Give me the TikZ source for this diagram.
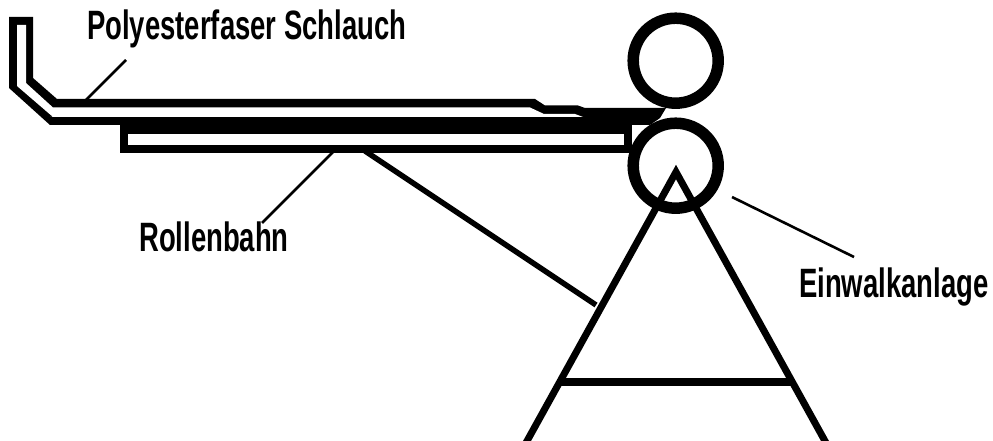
\documentclass[tikz,border=0pt]{standalone}
\usepackage{fontspec}
\newfontfamily\labelfont[FakeStretch=0.67]{Liberation Sans Bold}
\usetikzlibrary{
  calc,
  positioning
}
\begin{document}
\begin{tikzpicture}[
    x=1pt, y=-1pt,
    roller/.style={circle, draw=black, line width=11.5pt, fill=none, minimum size=85pt, inner sep=0pt},
    lbl/.style={font=\fontsize{41}{43}\selectfont\labelfont, inner sep=0pt, anchor=base west},
    leader/.style={line width=2.6pt, black},
    frame/.style={line width=7pt, black, miter limit=10}
  ]
    \useasboundingbox (0,0) rectangle (993,441);

    % hose
    \fill (9,17) -- (33,17) -- (33,78) -- (57,99) -- (535,99) -- (545,105.5) -- (578,105.5)
      -- (585,108) -- (666,108) -- (660,118) -- (650,125) -- (50,125) -- (9,88) -- cycle;
    \fill[white] (17,25) -- (26,25) -- (26,83) -- (53,107.5) -- (530,107.5) -- (544,114)
      -- (575,114) -- (583,117) -- (50,117) -- (53,117) -- (17,86) -- cycle;

    % conveyor
    \draw[line width=8pt, black, fill=white] (124,129.5) rectangle (627.5,149);
    \fill (120,125) rectangle (632,134);

    % rollers
    \node[roller] (topRoller) at (675.7,60.7) {};
    \node[roller] (lowRoller) at (675.7,165.7) {};

    % stand
    \coordinate (apex) at (676,172);
    \coordinate (footL) at (524.8,445);
    \coordinate (footR) at (827.2,445);
    \draw[frame] (footL) -- (apex) -- (footR);
    \draw[line width=8pt, black] (558,382) -- (794,382);
    \draw[line width=5.5pt, black] (365,151) -- (596,305);

    % labels
    \node[lbl] (hoseLabel) at (87,39.5) {Polyesterfaser Schlauch};
    \node[lbl] (trackLabel) at (139,251) {Rollenbahn};
    \node[lbl] (unitLabel) at (799,297) {Einwalkanlage};

    \coordinate (hoseEnd) at (126,60);
    \coordinate (hoseTip) at (86,100);
    \coordinate (trackEnd) at (333,152);
    \coordinate (trackTip) at (262,223);
    \coordinate (unitEnd) at (732,197);
    \coordinate (unitTip) at (854,257);
    \draw[leader] (hoseEnd) -- (hoseTip);
    \draw[leader] (trackEnd) -- (trackTip);
    \draw[leader] (unitEnd) -- (unitTip);
  \end{tikzpicture}
\end{document}
